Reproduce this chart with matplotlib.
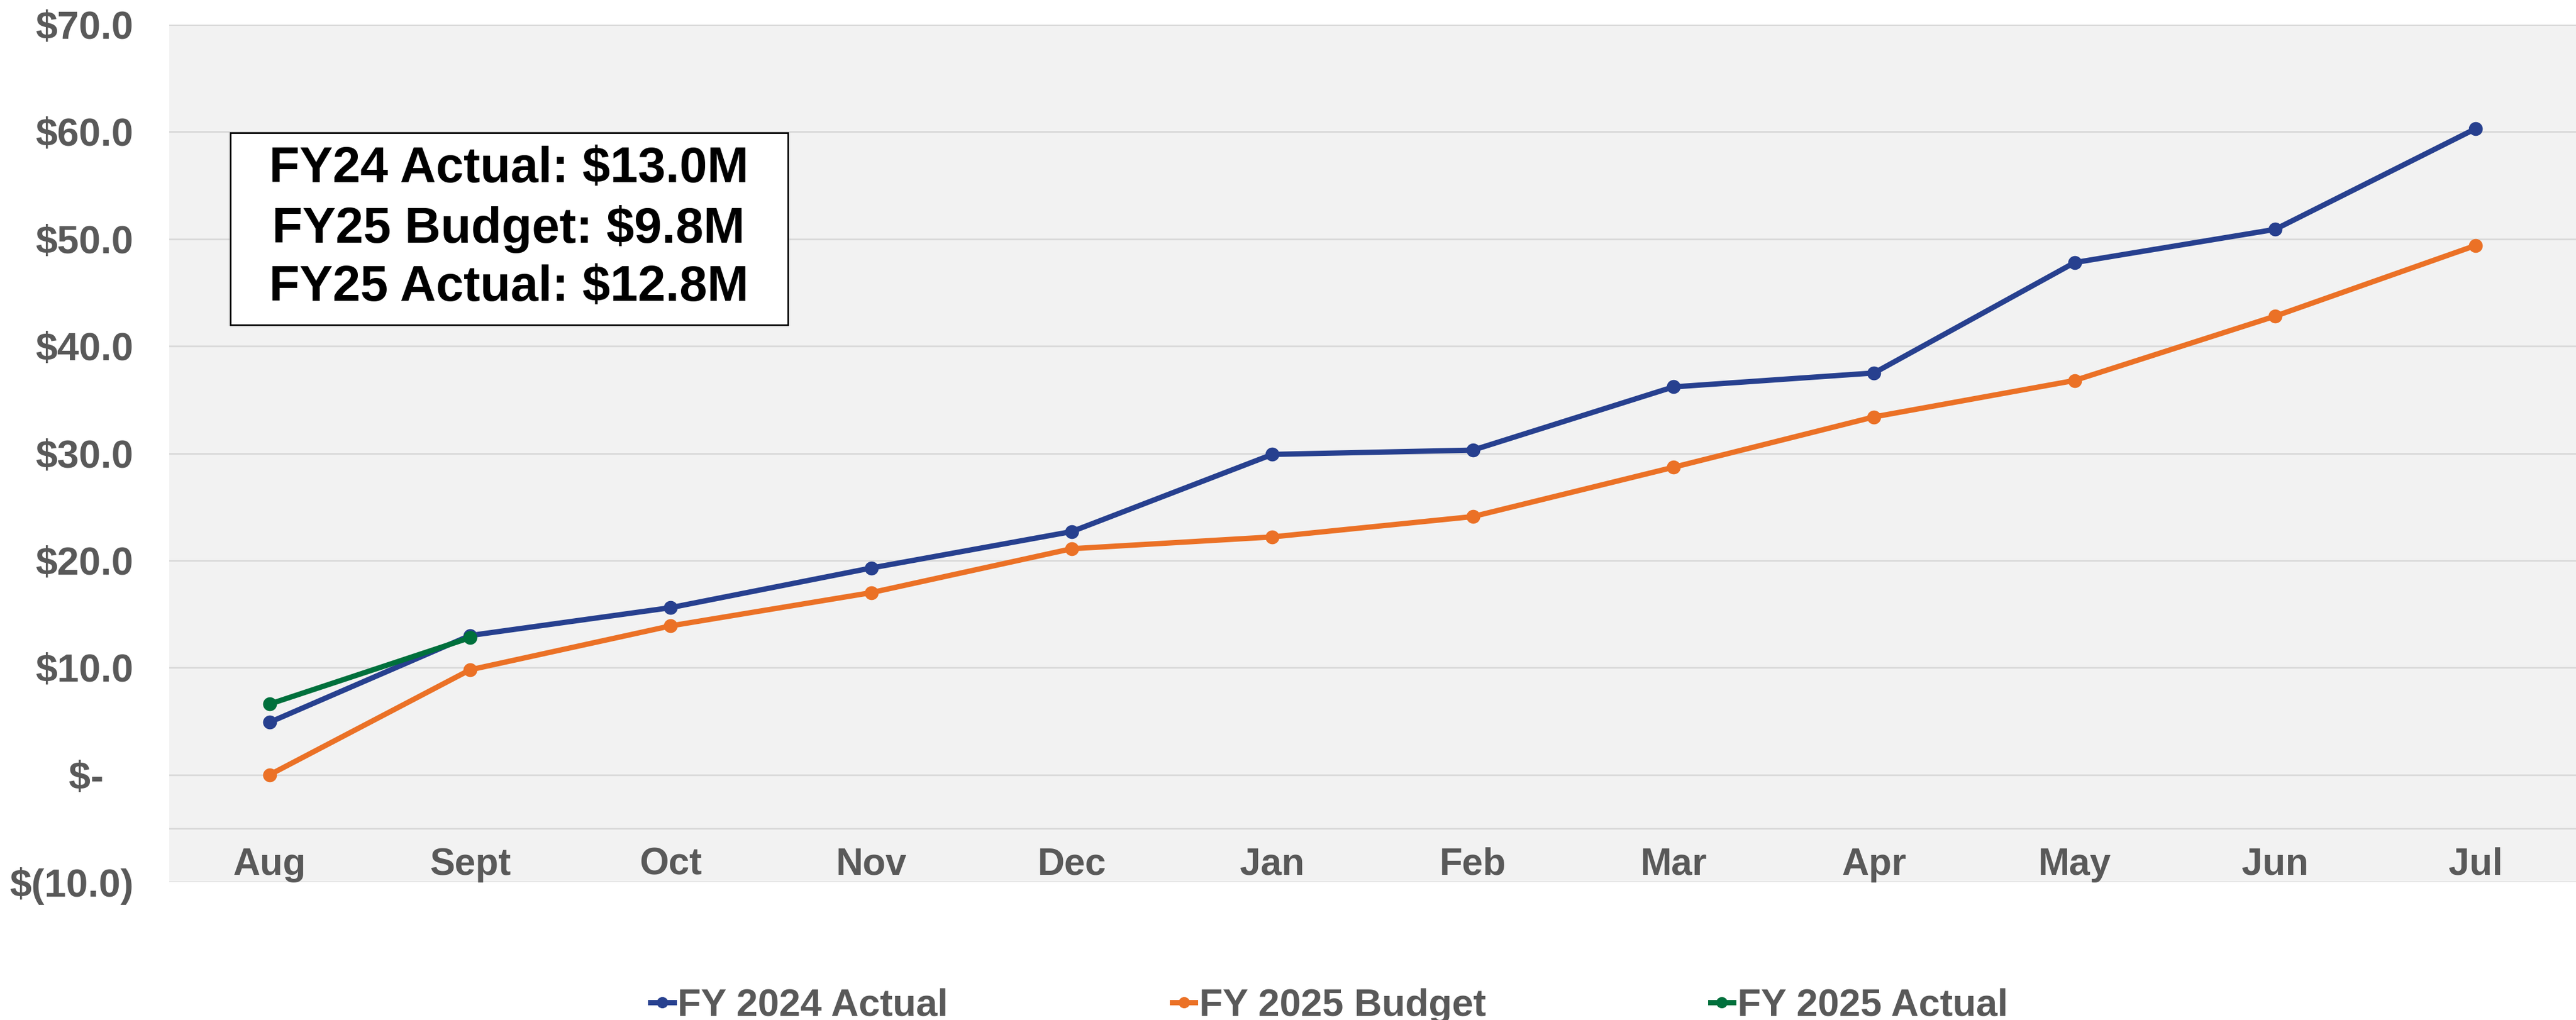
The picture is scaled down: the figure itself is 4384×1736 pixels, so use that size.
import numpy as np
import matplotlib
matplotlib.use('Agg')
import matplotlib.pyplot as plt
from matplotlib.patches import Rectangle

# data ($M, cumulative)
months = ['Aug', 'Sept', 'Oct', 'Nov', 'Dec', 'Jan', 'Feb', 'Mar', 'Apr', 'May', 'Jun', 'Jul']
fy24_actual = [4.9, 13.0, 15.6, 19.3, 22.7, 29.9, 30.3, 36.2, 37.5, 47.8, 50.9, 60.3]
fy25_budget = [0.0, 9.8, 13.9, 17.0, 21.1, 22.2, 24.1, 28.7, 33.4, 36.8, 42.8, 49.4]
fy25_actual = [6.6, 12.8]
y_ticks = [-10, 0, 10, 20, 30, 40, 50, 60, 70]
summary = ['FY24 Actual: $13.0M', 'FY25 Budget: $9.8M', 'FY25 Actual: $12.8M']

plt.rcParams['font.family'] = ['Liberation Sans', 'DejaVu Sans']
plt.rcParams['font.weight'] = 'bold'

gray_txt = '#595959'
blue = '#27408F'
orange = '#EB7126'
green = '#00703C'

fig = plt.figure(figsize=(43.84, 17.36), dpi=100)
ax = fig.add_axes([0.0657, 0.1353, 0.9343, 0.8405])
ax.set_facecolor('#F2F2F2')

x = np.arange(len(months))
lw = 6.5
ms = 16
ax.plot(x, fy24_actual, color=blue, lw=lw, marker='o', ms=ms, label='FY 2024 Actual', zorder=3)
ax.plot(x, fy25_budget, color=orange, lw=lw, marker='o', ms=ms, label='FY 2025 Budget', zorder=3)
ax.plot(x[:len(fy25_actual)], fy25_actual, color=green, lw=lw, marker='o', ms=ms,
        label='FY 2025 Actual', zorder=4)

ax.set_xlim(-0.5, len(months) - 0.5)
ax.set_ylim(-10, 70)

def fmt(v):
    if v == 0:
        return '$-  \u2009'
    if v < 0:
        return '$(%.1f)' % abs(v)
    return '$%.1f' % v

ax.set_yticks(y_ticks)
ax.set_yticklabels([fmt(v) for v in y_ticks])
ax.tick_params(axis='y', length=0, pad=44, labelsize=48, labelcolor=gray_txt)
ax.set_xticks([])
ax.grid(axis='y', color='#D9D9D9', lw=2)
ax.set_axisbelow(True)
ax.axhline(-5, color='#D9D9D9', lw=2)
for s in ax.spines.values():
    s.set_visible(False)

for i, m in enumerate(months):
    ax.text(i, -8.4, m, ha='center', va='center', fontsize=46, color=gray_txt, fontweight='bold')

# summary box
ax.add_patch(Rectangle((0.0253, 0.65), 0.2317, 0.224, transform=ax.transAxes,
                       facecolor='white', edgecolor='black', lw=2, zorder=5))
ax.text(0.141, 0.762, '\n'.join(summary), transform=ax.transAxes, ha='center', va='center',
        fontsize=61, fontweight='bold', color='black', linespacing=1.32, zorder=6)

fig.legend(loc='center', bbox_to_anchor=(0.516, 0.014), ncol=3, frameon=False,
           fontsize=47, labelcolor=gray_txt, handlelength=0.6, handletextpad=0.1,
           columnspacing=5.85, markerscale=0.8)

fig.savefig('out.png', dpi=100)
